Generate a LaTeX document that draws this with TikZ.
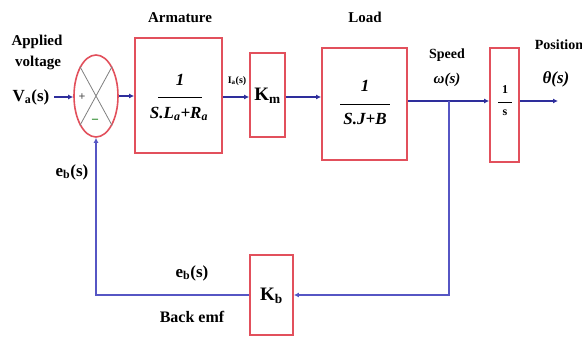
\documentclass[tikz,border=0pt]{standalone}
\usepackage{fontspec}
\setmainfont{Liberation Serif}
\usetikzlibrary{shapes.geometric,arrows.meta}
\definecolor{boxred}{HTML}{E2505C}
\definecolor{linblue}{HTML}{2E2E9C}
\definecolor{fbblue}{HTML}{5656C4}
\tikzset{
  blk/.style={draw=boxred, line width=1.8pt, minimum width=#1, inner sep=0pt},
  sig/.style={draw=linblue, line width=1.8pt, -{Latex[length=5pt,width=5pt]}},
  fb/.style={draw=fbblue, line width=1.4pt},
  lbl/.style={font=\bfseries\fontsize{15}{16}\selectfont, inner sep=0pt},
  frac/.style={font=\bfseries\itshape\fontsize{17}{18}\selectfont, inner sep=0pt}
}
\begin{document}
\begin{tikzpicture}[x=1pt,y=-1pt]
\useasboundingbox (0,0) rectangle (582,339);
% blocks
\node[draw=boxred, line width=1.6pt, ellipse, minimum width=44pt, minimum height=82pt, inner sep=0pt] (sum) at (96,96) {};
\draw[gray, line width=0.8pt] (sum.north west) -- (sum.south east) (sum.north east) -- (sum.south west);
\node[font=\bfseries\fontsize{12}{12}\selectfont, text=gray!60!black] (plus) at (82,97) {+};
\node[font=\bfseries\fontsize{12}{12}\selectfont, text=green!45!black] (minus) at (95,121) {\textendash};
\node[blk=87pt, minimum height=115pt] (arm) at (178.5,95.5) {};
\node[blk=35pt, minimum height=84pt] (km) at (267.5,95) {};
\node[blk=85pt, minimum height=112pt] (load) at (364.5,104) {};
\node[blk=29pt, minimum height=114pt] (integ) at (504.5,105) {};
\node[blk=43pt, minimum height=80pt] (kb) at (271.5,295) {};
% block contents
\node[frac] (an) at (180,80) {1};
\draw[line width=1pt] (158,98) -- (202,98);
\node[frac] (ad) at (179,114) {S.L\textsubscript{a}+R\textsubscript{a}};
\node[font=\bfseries\fontsize{19}{19}\selectfont] (kmt) at (267.5,96) {K\textsubscript{m}};
\node[frac] (ln) at (365,86) {1};
\draw[line width=0.8pt] (340,104) -- (390,104);
\node[frac] (ld) at (365,119) {S.J+B};
\node[font=\bfseries\fontsize{12}{12}\selectfont] (in1) at (505,90) {1};
\draw[line width=0.6pt] (498,102) -- (512,102);
\node[font=\bfseries\fontsize{12}{12}\selectfont] (in2) at (505,113) {s};
\node[font=\bfseries\fontsize{19}{19}\selectfont] (kbt) at (271.5,296) {K\textsubscript{b}};
% labels
\node[lbl] (ap) at (37,42) {Applied};
\node[lbl] (vo) at (38,63) {voltage};
\node[lbl, font=\bfseries\fontsize{17}{17}\selectfont] (va) at (31,97) {V\textsubscript{a}(s)};
\coordinate (vin) at (54,97);
\node[lbl] (armt) at (180,18) {Armature};
\node[font=\bfseries\fontsize{10}{10}\selectfont, inner sep=0pt] (ia) at (237,81) {I\textsubscript{a}(s)};
\node[lbl] (loadt) at (365,17) {Load};
\node[lbl, font=\bfseries\fontsize{14}{14}\selectfont] (sp) at (447,55) {Speed};
\node[font=\bfseries\itshape\fontsize{15}{15}\selectfont, inner sep=0pt] (om) at (447,80) {ω(s)};
\node[lbl, font=\bfseries\fontsize{14}{14}\selectfont] (pos) at (559,45) {Position};
\node[font=\bfseries\itshape\fontsize{17}{17}\selectfont, inner sep=0pt] (th) at (556,79) {θ(s)};
\node[font=\bfseries\fontsize{17}{17}\selectfont, inner sep=0pt] (eb1) at (72,172) {e\textsubscript{b}(s)};
\node[font=\bfseries\fontsize{17}{17}\selectfont, inner sep=0pt] (eb2) at (192,273) {e\textsubscript{b}(s)};
\node[font=\bfseries\fontsize{16}{16}\selectfont, inner sep=0pt] (be) at (192,317) {Back emf};
\coordinate (out) at (558,101);
\coordinate (br) at (449,101);
% signals
\draw[sig] (vin) -- (sum.west |- vin);
\draw[sig] (sum.east) -- (arm.west |- sum.east);
\draw[sig] (arm.east |- 0,97) -- (km.west |- 0,97);
\draw[sig] (km.east |- 0,97) -- (load.west |- 0,97);
\draw[sig] (load.east |- br) -- (integ.west |- br);
\draw[sig] (integ.east |- out) -- (out);
\draw[fb, -{Latex[length=5pt,width=5pt]}] (br) -- (br |- kb.east) -- (kb.east);
\draw[fb, -{Latex[length=5pt,width=5pt]}] (kb.west) -- (sum.south |- kb.west) -- (sum.south);
\end{tikzpicture}
\end{document}
